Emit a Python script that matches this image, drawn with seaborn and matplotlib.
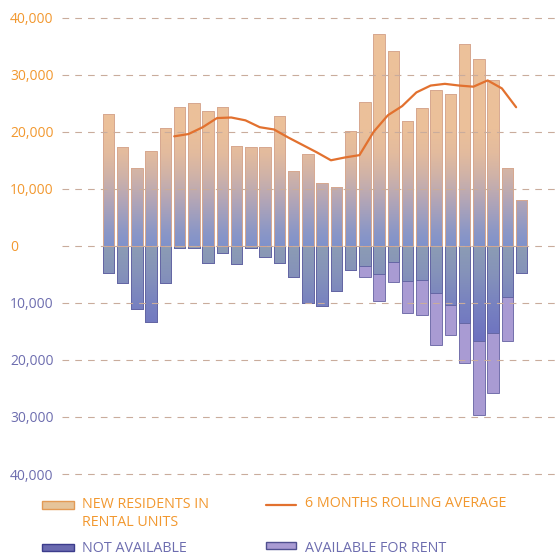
import numpy as np
import pandas as pd
import matplotlib.pyplot as plt
import seaborn as sns
from matplotlib.colors import LinearSegmentedColormap
from matplotlib.lines import Line2D
from matplotlib.patches import Rectangle

# values in thousands
months = list(range(1, 31))
new_residents = [23.2, 17.4, 13.6, 16.7, 20.6, 24.3, 25.0, 23.6, 24.3, 17.5,
                 17.4, 17.3, 22.8, 13.1, 16.1, 11.1, 10.3, 20.2, 25.3, 37.1,
                 34.2, 21.8, 24.1, 27.4, 26.7, 35.4, 32.8, 29.1, 13.6, 8.1]
not_available = [4.7, 6.6, 11.1, 13.4, 6.5, 0.4, 0.4, 3.0, 1.3, 3.1,
                 0.4, 2.0, 3.0, 5.5, 10.0, 10.5, 8.0, 4.3, 3.6, 5.0,
                 2.9, 6.2, 6.0, 8.3, 10.4, 13.5, 16.7, 15.2, 8.9, 4.7]
available_for_rent = [0, 0, 0, 0, 0, 0, 0, 0, 0, 0,
                      0, 0, 0, 0, 0, 0, 0, 0, 1.9, 4.6,
                      3.4, 5.6, 6.2, 9.1, 5.2, 7.1, 12.9, 10.6, 7.8, 0]
rolling_months = list(range(6, 31))
rolling_avg = [19.2, 19.6, 20.8, 22.4, 22.5, 22.0, 20.8, 20.4, 19.0, 17.7,
               16.4, 15.0, 15.5, 15.9, 20.0, 22.9, 24.5, 26.9, 28.1, 28.4,
               28.1, 27.9, 29.0, 27.6, 24.3]
y_ticks = [-40000, -30000, -20000, -10000, 0, 10000, 20000, 30000, 40000]

ORANGE = "#F2982F"
PURPLE = "#6D6DAF"
LINE = "#E2712F"
RENT = "#A99BD3"

df = pd.DataFrame({
    "month": months,
    "new": np.array(new_residents) * 1000,
    "not_avail": -np.array(not_available) * 1000,
    "total_neg": -(np.array(not_available) + np.array(available_for_rent)) * 1000,
})
roll = pd.DataFrame({
    "pos": np.array(rolling_months) - 1 - 0.38,  # line points sit at bar left edges
    "avg": np.array(rolling_avg) * 1000,
})

sns.set_theme(style="white")
plt.rcParams["font.family"] = ["Open Sans", "DejaVu Sans"]

pos_cmap = LinearSegmentedColormap.from_list("pos", [
    (0.00, "#8092CB"), (0.07, "#8E98C5"), (0.20, "#B4A6B6"),
    (0.30, "#CFB2A8"), (0.40, "#E3BB9E"), (0.50, "#EBC09A"), (1.00, "#EDC29A")])
neg_cmap = LinearSegmentedColormap.from_list("neg", [
    (0.00, "#6A6CBE"), (0.58, "#6C70C0"), (0.75, "#7882C0"),
    (0.88, "#8592BA"), (1.00, "#8C9CB4")])


def fill_gradient(ax, bars, cmap, vmin, vmax, z):
    grad = np.linspace(vmin, vmax, 256).reshape(-1, 1)
    for bar in bars:
        x0, w = bar.get_x(), bar.get_width()
        im = ax.imshow(grad, cmap=cmap, vmin=vmin, vmax=vmax, origin="lower",
                       extent=[x0, x0 + w, vmin, vmax], aspect="auto",
                       interpolation="bilinear", zorder=z)
        im.set_clip_path(bar)
        bar.set_facecolor("none")
        bar.set_zorder(z + 0.05)


fig = plt.figure(figsize=(5.6, 5.59), dpi=100)
ax = fig.add_axes([0.1107, 0.1469, 0.8893, 0.8266])

# negative stack: total first (available for rent), then not available on top
sns.barplot(data=df, x="month", y="total_neg", color=RENT, saturation=1,
            width=0.8, edgecolor="#7470AC", linewidth=0.7, ax=ax)
sns.barplot(data=df, x="month", y="not_avail", color="#7A86C2", saturation=1,
            width=0.8, edgecolor="#6466A4", linewidth=0.7, ax=ax)
fill_gradient(ax, ax.containers[-1], neg_cmap, -40500, 0, 1.2)
sns.barplot(data=df, x="month", y="new", color="#EBC09A", saturation=1,
            width=0.8, edgecolor="#D7A890", linewidth=0.7, ax=ax)
fill_gradient(ax, ax.containers[-1], pos_cmap, 0, 40500, 1.2)

sns.lineplot(data=roll, x="pos", y="avg", color=LINE, linewidth=1.6,
             ax=ax, zorder=4)

ax.set_xlim(-3.26, 31.7)
ax.set_ylim(-40500, 40500)
ax.set_yticks(y_ticks)
ax.set_yticklabels([f"{abs(v):,}" for v in y_ticks])
ax.set_xticks([])
ax.set_xlabel("")
ax.set_ylabel("")
ax.tick_params(axis="y", length=0, pad=37.4, labelsize=10)
for lab, v in zip(ax.get_yticklabels(), y_ticks):
    lab.set_horizontalalignment("left")
    lab.set_color(ORANGE if v >= 0 else PURPLE)
ax.set_axisbelow(False)
ax.yaxis.grid(True, linestyle=(0, (6, 5.5)), color="#C9AC9C", linewidth=0.8)
sns.despine(ax=ax, left=True, bottom=True)

# legend, laid out by hand in figure pixels
W, H = 560, 559


def fx(px):
    return px / W


def fy(py):
    return 1 - py / H


fig.patches.append(Rectangle((fx(42), fy(509)), fx(32), 8 / H, transform=fig.transFigure,
                             facecolor="#E6C49A", edgecolor="#E39A55", linewidth=1.0))
fig.patches.append(Rectangle((fx(42), fy(551)), fx(32), 7 / H, transform=fig.transFigure,
                             facecolor="#6A6AB0", edgecolor="#3C3C8C", linewidth=1.0))
fig.patches.append(Rectangle((fx(266), fy(548.5)), fx(30), 7 / H, transform=fig.transFigure,
                             facecolor=RENT, edgecolor="#505090", linewidth=1.0))
fig.lines.append(Line2D([fx(266), fx(296)], [fy(505), fy(505)], transform=fig.transFigure,
                        color=LINE, linewidth=1.6))

leg_kw = dict(fontsize=10.3, va="center", ha="left")
fig.text(fx(82), fy(504), "NEW RESIDENTS IN", color=ORANGE, **leg_kw)
fig.text(fx(82), fy(522.5), "RENTAL UNITS", color=ORANGE, **leg_kw)
fig.text(fx(305), fy(503.5), "6 MONTHS ROLLING AVERAGE", color=ORANGE, **leg_kw)
fig.text(fx(82), fy(548), "NOT AVAILABLE", color=PURPLE, **leg_kw)
fig.text(fx(305), fy(548), "AVAILABLE FOR RENT", color=PURPLE, **leg_kw)

fig.savefig("out.png", dpi=100)
